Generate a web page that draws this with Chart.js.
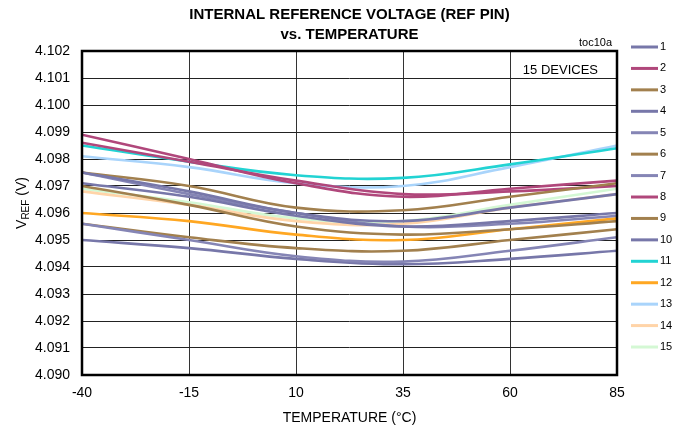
<!DOCTYPE html>
<html><head><meta charset="utf-8">
<script src="https://cdn.jsdelivr.net/npm/chart.js@4.4.1/dist/chart.umd.min.js"></script>
<style>html,body{margin:0;padding:0;background:#fff}</style>
</head><body>
<canvas id="c" width="686" height="430"></canvas>
<script>
const FONT = "'Liberation Sans Narrow','Arial Narrow','Liberation Sans',Arial,sans-serif";

// Data (temperature in °C, VREF in V)
const temps = [-40, -15, 10, 35, 60, 85];
const xTickLabels = ['-40', '-15', '10', '35', '60', '85'];
const yTickLabels = ['4.090','4.091','4.092','4.093','4.094','4.095','4.096','4.097','4.098','4.099','4.100','4.101','4.102'];
const seriesLabels = ['1','2','3','4','5','6','7','8','9','10','11','12','13','14','15'];

const dev1  = [4.0975, 4.0968, 4.0960, 4.0957, 4.0962, 4.0967];
const dev2  = [4.0989, 4.0980, 4.0971, 4.0966, 4.0969, 4.0972];
const dev3  = [4.0975, 4.0970, 4.0962, 4.0961, 4.0966, 4.0971];
const dev4  = [4.0971, 4.0966, 4.0959, 4.0955, 4.0957, 4.0960];
const dev5  = [4.0975, 4.0967, 4.0960, 4.0955, 4.0956, 4.0959];
const dev6  = [4.0970, 4.0963, 4.0955, 4.0952, 4.0954, 4.0957];
const dev7  = [4.0956, 4.0950, 4.0944, 4.0942, 4.0946, 4.0951];
const dev8  = [4.0986, 4.0979, 4.0972, 4.0967, 4.0968, 4.0970];
const dev9  = [4.0956, 4.0951, 4.0947, 4.0946, 4.0950, 4.0954];
const dev10 = [4.0950, 4.0947, 4.0943, 4.0941, 4.0943, 4.0946];
const dev11 = [4.0985, 4.0979, 4.0974, 4.0973, 4.0978, 4.0984];
const dev12 = [4.0960, 4.0957, 4.0952, 4.0950, 4.0954, 4.0958];
const dev13 = [4.0981, 4.0977, 4.0971, 4.0970, 4.0977, 4.0985];
const dev14 = [4.0968, 4.0963, 4.0957, 4.0956, 4.0962, 4.0967];
const dev15 = [4.0969, 4.0964, 4.0958, 4.0957, 4.0963, 4.0969];

const allSeries = [dev1,dev2,dev3,dev4,dev5,dev6,dev7,dev8,dev9,dev10,dev11,dev12,dev13,dev14,dev15];
const colors = ['#7777a9','#b0477b','#a2804e','#7777a9','#8585b5','#a2804e','#8585b5','#b0477b','#a2804e','#7777a9','#22d3d3','#ffa722','#a9d4fb','#ffd4a8','#d4f8d4'];

const datasets = allSeries.map((vals, i) => ({
  label: seriesLabels[i],
  data: temps.map((t, j) => ({x: t, y: vals[j]})),
  borderColor: colors[i],
  backgroundColor: colors[i],
  borderWidth: 2.6,
  pointRadius: 0,
  tension: 0.4,
  fill: false
}));

const extras = {
  id: 'extras',
  afterDatasetsDraw(chart) {
    const {ctx, chartArea: a} = chart;
    ctx.save();
    ctx.strokeStyle = '#000';
    ctx.lineWidth = 2.5;
    ctx.strokeRect(a.left, a.top, a.right - a.left, a.bottom - a.top);
    ctx.restore();
  },
  afterDraw(chart) {
    const {ctx, chartArea: a} = chart;
    const cx = (a.left + a.right) / 2;
    ctx.save();
    ctx.fillStyle = '#000';
    ctx.textAlign = 'center';
    ctx.textBaseline = 'middle';
    ctx.font = "bold 15px " + FONT;
    ctx.fillText('INTERNAL REFERENCE VOLTAGE (REF PIN)', cx, 15);
    ctx.fillText('vs. TEMPERATURE', cx, 35);
    ctx.font = "14px " + FONT;
    ctx.fillText('TEMPERATURE (°C)', cx, 418);
    ctx.textAlign = 'right';
    ctx.font = "11px " + FONT;
    ctx.fillText('toc10a', 612, 43);
    ctx.font = "13px " + FONT;
    ctx.fillText('15 DEVICES', 598, 70);
    // y title with subscript
    ctx.translate(21, 203);
    ctx.rotate(-Math.PI / 2);
    ctx.textAlign = 'left';
    ctx.textBaseline = 'alphabetic';
    const f1 = "14px " + FONT, f2 = "10px " + FONT;
    ctx.font = f1; const w1 = ctx.measureText('V').width;
    ctx.font = f2; const w2 = ctx.measureText('REF').width;
    ctx.font = f1; const w3 = ctx.measureText(' (V)').width;
    let x0 = -(w1 + w2 + w3) / 2;
    ctx.font = f1; ctx.fillText('V', x0, 5);
    ctx.font = f2; ctx.fillText('REF', x0 + w1, 8);
    ctx.font = f1; ctx.fillText(' (V)', x0 + w1 + w2, 5);
    ctx.restore();
    // legend
    ctx.save();
    ctx.font = "11px " + FONT;
    ctx.textAlign = 'left';
    ctx.textBaseline = 'middle';
    chart.data.datasets.forEach((ds, i) => {
      const y = 47 + i * 21.43;
      ctx.strokeStyle = ds.borderColor;
      ctx.lineWidth = 3;
      ctx.beginPath(); ctx.moveTo(631, y); ctx.lineTo(658, y); ctx.stroke();
      ctx.fillStyle = '#000';
      ctx.fillText(ds.label, 660, y);
    });
    ctx.restore();
  }
};

new Chart(document.getElementById('c'), {
  type: 'line',
  data: { datasets },
  options: {
    responsive: false,
    animation: false,
    layout: { padding: { top: 51, right: 69, left: 0, bottom: 0 } },
    plugins: { legend: { display: false }, tooltip: { enabled: false } },
    scales: {
      x: {
        type: 'linear', min: -40, max: 85,
        afterBuildTicks(s) { s.ticks = temps.map(v => ({value: v})); },
        afterFit(s) { s.height = 55; },
        ticks: { callback: (v) => xTickLabels[temps.indexOf(v)] ?? '', color: '#000', font: { family: FONT, size: 14 }, padding: 10, maxRotation: 0 },
        grid: { color: '#333', lineWidth: 1, drawTicks: false },
        border: { display: false }
      },
      y: {
        type: 'linear', min: 4.090, max: 4.102,
        afterBuildTicks(s) { s.ticks = yTickLabels.map(l => ({value: parseFloat(l)})); },
        afterFit(s) { s.width = 82; },
        ticks: { callback: (v) => v.toFixed(3), color: '#000', font: { family: FONT, size: 14 }, padding: 12 },
        grid: { color: '#222', lineWidth: 1, drawTicks: false },
        border: { display: false }
      }
    }
  },
  plugins: [extras]
});
</script>
</body></html>
